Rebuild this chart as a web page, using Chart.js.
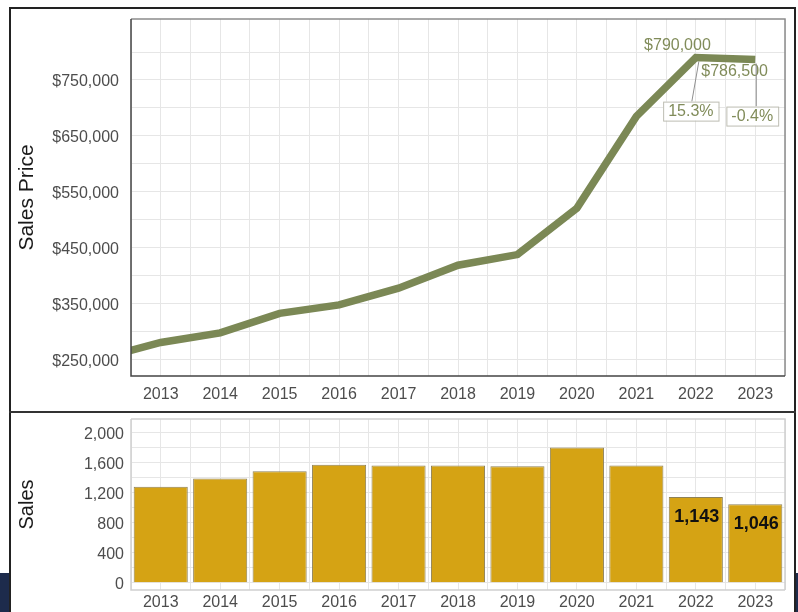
<!DOCTYPE html>
<html>
<head>
<meta charset="utf-8">
<title>Sales Price and Sales</title>
<script src="https://cdn.jsdelivr.net/npm/chart.js@4.4.1/dist/chart.umd.min.js"></script>
<style>
  body { margin: 0; width: 798px; height: 612px; background: #fff; position: relative; overflow: hidden; }
  #frame { position: absolute; left: 9px; top: 7px; width: 787px; height: 640px; border: 2px solid #222; box-sizing: border-box; }
  #divider { position: absolute; left: 9px; top: 411px; width: 787px; height: 2px; background: #333; }
  .navy { position: absolute; background: #1d2b4c; }
  #priceBox { position: absolute; left: 11px; top: 9px; width: 782px; height: 402px; }
  #salesBox { position: absolute; left: 11px; top: 413px; width: 782px; height: 199px; }
</style>
</head>
<body>
<div id="frame"></div>
<div id="divider"></div>
<div class="navy" style="left:0;top:573px;width:9px;height:39px"></div>
<div class="navy" style="left:796px;top:573px;width:2px;height:39px"></div>
<div id="priceBox"><canvas id="priceChart"></canvas></div>
<div id="salesBox"><canvas id="salesChart"></canvas></div>

<script>
// ---------------------------------------------
// data
// ---------------------------------------------
const priceYears = [2012, 2013, 2014, 2015, 2016, 2017, 2018, 2019, 2020, 2021, 2022, 2023];
const prices = [253000, 281000, 298000, 333000, 348000, 378000, 419000, 438000, 521000, 685000, 790000, 786500];

const salesYears = [2013, 2014, 2015, 2016, 2017, 2018, 2019, 2020, 2021, 2022, 2023];
const sales = [1280, 1387, 1484, 1573, 1563, 1562, 1550, 1800, 1560, 1143, 1046];
const labeledSales = [2022, 2023];

const priceLabels = [250000, 350000, 450000, 550000, 650000, 750000];
const salesLabels = [0, 400, 800, 1200, 1600, 2000];

const FONT = "'Liberation Sans', Arial, sans-serif";
const LINE_COLOR = "#7b8855";
const NOTE_COLOR = "#818c5a";
const BAR_COLOR = "#d5a314";
const GRID_COLOR = "#e6e6e6";
const TICK_COLOR = "#4d4d4d";

// grid every half year, labels on whole years
function yearTicks(scale) {
    const ticks = [];
    for (let v = 2012.5; v <= 2023.5; v += 0.5) ticks.push({ value: v });
    scale.ticks = ticks;
}

function yearLabel(value) {
    return Number.isInteger(value) ? String(value) : "";
}

function money(v) {
    return "$" + v.toLocaleString("en-US");
}

// fixed axis size, no extra room for edge labels
function fixSize(w, h) {
    return function(s) {
        if (w) s.width = w;
        if (h) s.height = h;
        s.paddingTop = 0;
        s.paddingBottom = 0;
        s.paddingLeft = 0;
        s.paddingRight = 0;
    };
}

// plot frame: dark axes on left/bottom, light edges elsewhere
function framePlugin(leftBottom, topRight) {
    return {
        id: "frame",
        afterDatasetsDraw(chart) {
            const a = chart.chartArea;
            const ctx = chart.ctx;
            ctx.save();
            ctx.lineWidth = 1.5;
            ctx.strokeStyle = topRight;
            ctx.beginPath();
            ctx.moveTo(a.left, a.top);
            ctx.lineTo(a.right, a.top);
            ctx.lineTo(a.right, a.bottom);
            ctx.stroke();
            ctx.strokeStyle = leftBottom;
            ctx.beginPath();
            ctx.moveTo(a.left, a.top);
            ctx.lineTo(a.left, a.bottom);
            ctx.lineTo(a.right, a.bottom);
            ctx.stroke();
            ctx.restore();
        },
    };
}

// value and change notes on the last two years
const priceNotes = {
    id: "priceNotes",
    afterDatasetsDraw(chart) {
        const ctx = chart.ctx;
        const xs = chart.scales.x;
        const ys = chart.scales.y;
        const n = prices.length;
        const ax = xs.getPixelForValue(priceYears[n - 2]);
        const ay = ys.getPixelForValue(prices[n - 2]);
        const bx = xs.getPixelForValue(priceYears[n - 1]);
        const by = ys.getPixelForValue(prices[n - 1]);
        const pctA = ((prices[n - 2] / prices[n - 3] - 1) * 100).toFixed(1) + "%";
        const pctB = ((prices[n - 1] / prices[n - 2] - 1) * 100).toFixed(1) + "%";

        ctx.save();
        ctx.font = "16px " + FONT;
        ctx.fillStyle = NOTE_COLOR;
        ctx.textBaseline = "middle";
        ctx.textAlign = "right";
        ctx.fillText(money(prices[n - 2]), ax + 15, ay - 12);
        ctx.textAlign = "left";
        ctx.fillText(money(prices[n - 1]), bx - 54, by + 12);

        // leaders
        ctx.strokeStyle = "#8f8f8f";
        ctx.lineWidth = 1;
        ctx.beginPath();
        ctx.moveTo(ax + 3, ay + 4);
        ctx.lineTo(ax - 4, ay + 44);
        ctx.moveTo(bx + 1, by + 4);
        ctx.lineTo(bx + 1, by + 47);
        ctx.stroke();

        function box(text, cx, top) {
            const w = ctx.measureText(text).width + 10;
            ctx.fillStyle = "#fff";
            ctx.fillRect(cx - w / 2, top, w, 19);
            ctx.strokeStyle = "#bdbdb2";
            ctx.strokeRect(cx - w / 2 + 0.5, top + 0.5, w, 19);
            ctx.fillStyle = NOTE_COLOR;
            ctx.textAlign = "center";
            ctx.fillText(text, cx, top + 10);
        }
        box(pctA, ax - 5, ay + 44);
        box(pctB, bx - 3, by + 47);
        ctx.restore();
    },
};

const salesNotes = {
    id: "salesNotes",
    afterDatasetsDraw(chart) {
        const ctx = chart.ctx;
        const meta = chart.getDatasetMeta(0);
        ctx.save();
        ctx.font = "bold 18px " + FONT;
        ctx.fillStyle = "#111";
        ctx.textAlign = "center";
        ctx.textBaseline = "middle";
        for (let i = 0; i < salesYears.length; i++) {
            if (labeledSales.indexOf(salesYears[i]) === -1) continue;
            const bar = meta.data[i];
            ctx.fillText(sales[i].toLocaleString("en-US"), bar.x + 1, bar.y + 20);
        }
        ctx.restore();
    },
};

// ---------------------------------------------
// sales price line
// ---------------------------------------------
new Chart(document.getElementById("priceChart"), {
    type: "line",
    data: {
        datasets: [{
            data: priceYears.map(function(y, i) { return { x: y, y: prices[i] }; }),
            borderColor: LINE_COLOR,
            borderWidth: 7.5,
            pointRadius: 0,
            tension: 0,
            clip: 0,
        }],
    },
    options: {
        responsive: true,
        maintainAspectRatio: false,
        animation: false,
        layout: { padding: { left: 0, right: 8, top: 10, bottom: 0 } },
        plugins: { legend: { display: false }, tooltip: { enabled: false } },
        scales: {
            x: {
                type: "linear",
                min: 2012.5,
                max: 2023.5,
                offset: false,
                afterBuildTicks: yearTicks,
                afterFit: fixSize(0, 35),
                grid: { color: GRID_COLOR, drawTicks: false, offset: false },
                border: { display: false },
                ticks: {
                    autoSkip: false,
                    maxRotation: 0,
                    padding: 9,
                    color: TICK_COLOR,
                    font: { family: FONT, size: 16 },
                    callback: yearLabel,
                },
            },
            y: {
                min: 221000,
                max: 859000,
                afterBuildTicks: function(scale) {
                    const ticks = [];
                    for (let v = 250000; v <= 800000; v += 50000) ticks.push({ value: v });
                    scale.ticks = ticks;
                },
                afterFit: fixSize(120, 0),
                grid: { color: GRID_COLOR, drawTicks: false },
                border: { display: false },
                title: {
                    display: true,
                    text: "Sales Price",
                    color: "#1a1a1a",
                    font: { family: FONT, size: 21 },
                    padding: { top: 4, bottom: 0 },
                },
                ticks: {
                    autoSkip: false,
                    padding: 12,
                    labelOffset: 2,
                    color: TICK_COLOR,
                    font: { family: FONT, size: 16 },
                    callback: function(v) {
                        return priceLabels.indexOf(v) !== -1 ? money(v) : "";
                    },
                },
            },
        },
    },
    plugins: [framePlugin("#444", "#8c8c8c"), priceNotes],
});

// ---------------------------------------------
// sales bars
// ---------------------------------------------
new Chart(document.getElementById("salesChart"), {
    type: "bar",
    data: {
        datasets: [{
            data: salesYears.map(function(y, i) { return { x: y, y: sales[i] }; }),
            backgroundColor: BAR_COLOR,
            borderColor: "#8e8157",
            borderWidth: 1,
            categoryPercentage: 1,
            // bar ruler follows the half-year grid spacing
            barPercentage: 1.82,
        }],
    },
    options: {
        responsive: true,
        maintainAspectRatio: false,
        animation: false,
        layout: { padding: { left: 0, right: 8, top: 6, bottom: 0 } },
        plugins: { legend: { display: false }, tooltip: { enabled: false } },
        scales: {
            x: {
                type: "linear",
                min: 2012.5,
                max: 2023.5,
                offset: false,
                afterBuildTicks: yearTicks,
                afterFit: fixSize(0, 22),
                grid: { color: GRID_COLOR, drawTicks: false, offset: false },
                border: { display: false },
                ticks: {
                    autoSkip: false,
                    maxRotation: 0,
                    padding: 3,
                    color: TICK_COLOR,
                    font: { family: FONT, size: 16 },
                    callback: yearLabel,
                },
            },
            y: {
                min: -95,
                max: 2180,
                afterBuildTicks: function(scale) {
                    const ticks = [];
                    for (let v = 0; v <= 2000; v += 200) ticks.push({ value: v });
                    scale.ticks = ticks;
                },
                afterFit: fixSize(120, 0),
                grid: { color: GRID_COLOR, drawTicks: false },
                border: { display: false },
                title: {
                    display: true,
                    text: "Sales",
                    color: "#1a1a1a",
                    font: { family: FONT, size: 20 },
                    padding: { top: 4, bottom: 0 },
                },
                ticks: {
                    autoSkip: false,
                    padding: 7,
                    labelOffset: 2,
                    color: TICK_COLOR,
                    font: { family: FONT, size: 16 },
                    callback: function(v) {
                        return salesLabels.indexOf(v) !== -1 ? v.toLocaleString("en-US") : "";
                    },
                },
            },
        },
    },
    plugins: [framePlugin("#cfcfcf", "#cfcfcf"), salesNotes],
});
</script>
</body>
</html>
